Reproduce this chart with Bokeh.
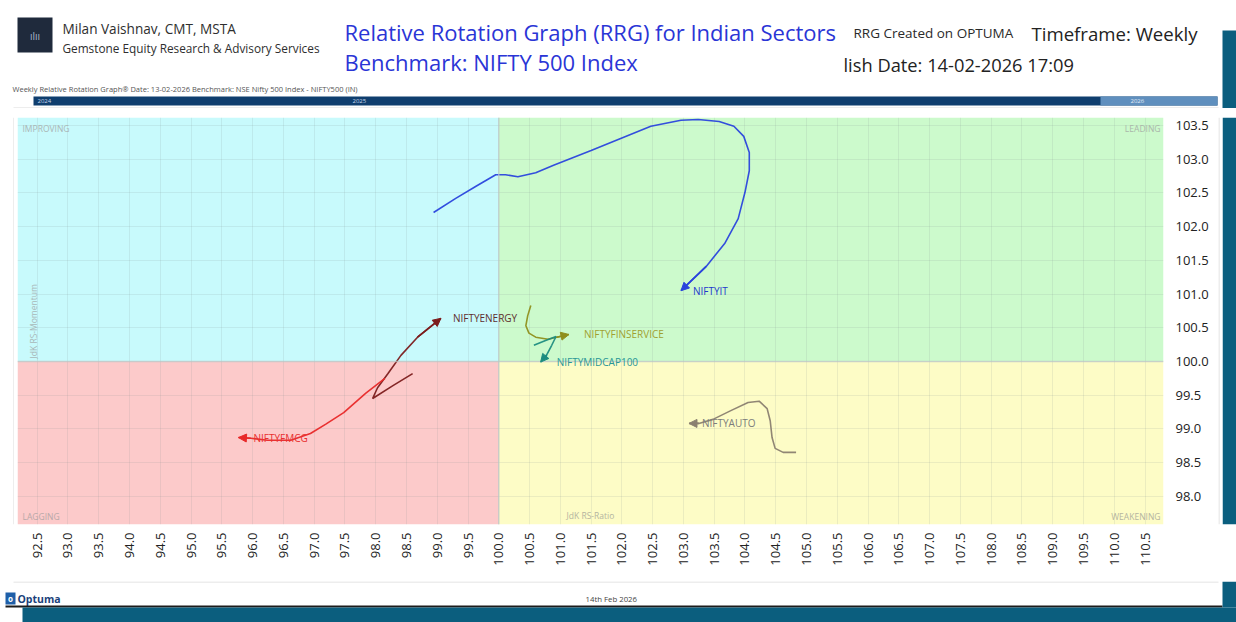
import math
from bokeh.plotting import figure
from bokeh.layouts import column, row
from bokeh.models import (BoxAnnotation, Label, Arrow, NormalHead, FixedTicker,
                          NumeralTickFormatter, Span)
from bokeh.core.properties import value
from bokeh.embed import file_html
from bokeh.resources import INLINE

# ---------------- data ----------------
x_ticks = [92.5, 93.0, 93.5, 94.0, 94.5, 95.0, 95.5, 96.0, 96.5, 97.0, 97.5, 98.0,
           98.5, 99.0, 99.5, 100.0, 100.5, 101.0, 101.5, 102.0, 102.5, 103.0, 103.5,
           104.0, 104.5, 105.0, 105.5, 106.0, 106.5, 107.0, 107.5, 108.0, 108.5,
           109.0, 109.5, 110.0, 110.5]
y_ticks = [98.0, 98.5, 99.0, 99.5, 100.0, 100.5, 101.0, 101.5, 102.0, 102.5, 103.0, 103.5]

x_range = (92.18, 110.80)
y_range = (97.58, 103.62)

it_ratio = [98.94, 99.30, 99.63, 99.95, 100.11, 100.31, 100.60, 100.89, 101.50, 101.98,
            102.47, 102.96, 103.24, 103.58, 103.82, 103.98, 104.07, 104.07, 104.00,
            103.89, 103.67, 103.37, 102.96]
it_mom = [102.21, 102.42, 102.60, 102.77, 102.77, 102.74, 102.80, 102.91, 103.13, 103.31,
          103.49, 103.58, 103.59, 103.56, 103.49, 103.34, 103.10, 102.83, 102.51,
          102.12, 101.75, 101.41, 101.05]

energy_ratio = [98.60, 98.28, 97.95, 98.03, 98.20, 98.41, 98.68, 99.06]
energy_mom = [99.82, 99.64, 99.45, 99.61, 99.82, 100.09, 100.36, 100.64]

fmcg_ratio = [98.15, 97.84, 97.48, 97.19, 96.94, 96.62, 96.24, 95.97, 95.77]
fmcg_mom = [99.75, 99.53, 99.24, 99.07, 98.93, 98.83, 98.83, 98.86, 98.87]

fin_ratio = [100.52, 100.47, 100.44, 100.49, 100.60, 100.80, 100.94, 101.14]
fin_mom = [100.83, 100.68, 100.53, 100.42, 100.36, 100.33, 100.36, 100.40]

midcap_ratio = [100.57, 100.76, 100.93, 100.86, 100.78, 100.68]
midcap_mom = [100.24, 100.31, 100.37, 100.24, 100.10, 99.99]

auto_ratio = [104.83, 104.62, 104.49, 104.44, 104.41, 104.36, 104.23, 104.05, 103.77,
              103.48, 103.25, 103.09]
auto_mom = [98.65, 98.65, 98.71, 98.87, 99.12, 99.30, 99.41, 99.39, 99.27, 99.14,
            99.08, 99.08]

series = [
    # name, ratio, momentum, line colour, label colour, label offset px
    ("NIFTYIT", it_ratio, it_mom, "#2a44dd", "#2238cc", 12),
    ("NIFTYENERGY", energy_ratio, energy_mom, "#7c1c1c", "#5e2e2e", 12),
    ("NIFTYFMCG", fmcg_ratio, fmcg_mom, "#e82828", "#e83030", 15),
    ("NIFTYFINSERVICE", fin_ratio, fin_mom, "#8f8f1c", "#a0a030", 15),
    ("NIFTYMIDCAP100", midcap_ratio, midcap_mom, "#1c8c80", "#2a9696", 16),
    ("NIFTYAUTO", auto_ratio, auto_mom, "#8a8070", "#7c7c7c", 13),
]

FONT = "Open Sans"
TEAL = "#0b5e7e"
BORDER = "#dcdcdc"


# ---------------- decoration panels (1 unit = 1 page pixel) ----------------
def deco(w, h, x0, y0):
    f = figure(width=w, height=h, x_range=(x0, x0 + w), y_range=(y0 + h, y0),
               output_backend="svg", toolbar_location=None, min_border=0,
               x_axis_location=None, y_axis_location=None, title=None,
               outline_line_color=None, background_fill_color="white",
               border_fill_color="white")
    for g in f.grid:
        g.visible = False
    return f


def rect(f, x0, y0, x1, y1, color):
    f.quad(left=[x0], right=[x1], top=[y0], bottom=[y1], fill_color=color,
           line_color=None)


def words(f, x, y, s, size, color, align="left", style="normal"):
    f.text(x=[x], y=[y], text=[s], text_font=value(FONT), text_font_size=size,
           text_color=color, text_align=align, text_baseline="middle",
           text_font_style=style)


# header : page y 0..108
hdr = deco(1236, 108, 0, 0)
rect(hdr, 1222, 30, 1236, 108, TEAL)
rect(hdr, 17, 17, 52, 52, "#1f2a3c")
words(hdr, 34.5, 35, "ılıı", "10px", "#a9b6cc", align="center")
words(hdr, 62, 28, "Milan Vaishnav, CMT, MSTA", "13.6px", "#2e2e2e")
words(hdr, 62, 47, "Gemstone Equity Research & Advisory Services", "11.8px", "#2e2e2e")
words(hdr, 344, 31, "Relative Rotation Graph (RRG) for Indian Sectors", "22px", "#2a35d6")
words(hdr, 344, 61, "Benchmark: NIFTY 500 Index", "22px", "#2a35d6")
words(hdr, 853, 32, "RRG Created on OPTUMA", "13.5px", "#2a2a2a")
words(hdr, 1031, 33, "Timeframe: Weekly", "18.6px", "#222222")
words(hdr, 843, 64, "lish Date: 14-02-2026 17:09", "18.3px", "#222222")
words(hdr, 12, 88, "Weekly Relative Rotation Graph®   Date: 13-02-2026  Benchmark: NSE Nifty 500 Index - NIFTY500 (IN)",
      "7.5px", "#555555")
rect(hdr, 33, 96, 1217, 105, "#0f3e6e")
rect(hdr, 1100, 96, 1217, 105, "#5f8fbe")
words(hdr, 37, 100.5, "2024", "6px", "#c8d8ec")
words(hdr, 352, 100.5, "2025", "6px", "#c8d8ec")
words(hdr, 1130, 100.5, "2026", "6px", "#e2ecf6")
rect(hdr, 13, 107, 1218, 108, BORDER)

# side strips : page y 108..581
lp = deco(14, 473, 0, 108)
rect(lp, 13, 108, 14, 581, BORDER)
rp = deco(4, 473, 1218, 108)
rect(rp, 1218, 108, 1219, 581, BORDER)
strip = deco(14, 473, 1222, 108)
rect(strip, 1222, 108, 1236, 581, TEAL)

# footer : page y 581..622
ftr = deco(1236, 41, 0, 581)
rect(ftr, 13, 581, 1218, 582, BORDER)
rect(ftr, 5, 592, 15, 604, "#1f5fa8")
words(ftr, 10, 598, "o", "8px", "#ffffff", align="center", style="bold")
words(ftr, 17, 598, "Optuma", "10.5px", "#1a3f7a", style="bold")
words(ftr, 585, 598, "14th Feb 2026", "7.8px", "#444444")
rect(ftr, 5, 605, 1222, 607, "#1c1c1c")
rect(ftr, 1222, 581, 1236, 607, TEAL)
rect(ftr, 22, 607, 1236, 622, TEAL)

# ---------------- main RRG figure : page x 14..1218, y 108..581 ----------------
p = figure(width=1204, height=473, x_range=x_range, y_range=y_range,
           output_backend="svg", toolbar_location=None, y_axis_location="right",
           min_border_left=3, min_border_right=55, min_border_top=9,
           min_border_bottom=57, background_fill_color="white",
           border_fill_color="white", outline_line_color=None, title=None)

quads = [
    (x_range[0], 100, 100, y_range[1], "#c8fafc"),   # improving
    (100, x_range[1], 100, y_range[1], "#ccfacc"),   # leading
    (x_range[0], 100, y_range[0], 100, "#fccaca"),   # lagging
    (100, x_range[1], y_range[0], 100, "#fdfcc6"),   # weakening
]
for l, r, b, t, c in quads:
    p.add_layout(BoxAnnotation(left=l, right=r, bottom=b, top=t, fill_color=c,
                               fill_alpha=1, line_color=None, level="image"))

p.xaxis.ticker = FixedTicker(ticks=x_ticks)
p.yaxis.ticker = FixedTicker(ticks=y_ticks)
p.xaxis.formatter = NumeralTickFormatter(format="0.0")
p.yaxis.formatter = NumeralTickFormatter(format="0.0")
p.xaxis.major_label_orientation = math.pi / 2
for ax in (p.xaxis, p.yaxis):
    ax.axis_line_color = None
    ax.major_tick_line_color = None
    ax.minor_tick_line_color = None
    ax.major_tick_out = 0
    ax.major_tick_in = 0
    ax.minor_tick_out = 0
    ax.major_label_text_font = FONT
    ax.major_label_text_font_size = "13px"
    ax.major_label_text_color = "#222222"
p.xaxis.major_label_standoff = 8
p.yaxis.major_label_standoff = 12

p.xgrid.ticker = FixedTicker(ticks=x_ticks)
p.ygrid.ticker = FixedTicker(ticks=y_ticks)
p.grid.grid_line_color = "#7f9090"
p.grid.grid_line_alpha = 0.14
p.grid.grid_line_width = 1

for dim in ("height", "width"):
    p.add_layout(Span(location=100, dimension=dim, line_color="#bcc6c6",
                      line_width=1.5, line_alpha=0.7))

for name, xs, ys, c, lc, off in series:
    p.line(xs, ys, line_color=c, line_width=1.6, line_alpha=0.95)
    p.add_layout(Arrow(end=NormalHead(size=8, fill_color=c, line_color=c),
                       x_start=xs[-2], y_start=ys[-2], x_end=xs[-1], y_end=ys[-1],
                       line_color=c, line_width=1.6))
    p.add_layout(Label(x=xs[-1], y=ys[-1], text=name, x_offset=off,
                       text_baseline="middle", text_align="left",
                       text_font=FONT, text_font_size="10px", text_color=lc))

# captions inside the frame (screen units relative to the frame)
FL, FB = 17, 524


def cap(px, py, s, color, align="left", angle=0):
    p.add_layout(Label(x=px - FL, y=FB - py, x_units="screen", y_units="screen",
                       text=s, text_font=FONT, text_font_size="8.5px",
                       text_color=color, text_align=align, text_baseline="middle",
                       angle=angle))


cap(22, 128, "IMPROVING", "#aab6b6")
cap(1160, 128, "LEADING", "#aab6aa", align="right")
cap(22, 516, "LAGGING", "#b8a8a8")
cap(1160, 516, "WEAKENING", "#b4b4a0", align="right")
cap(566, 515, "JdK RS-Ratio", "#b4b4a0")
cap(33, 358, "JdK RS-Momentum", "#a8b8b8", angle=math.pi / 2)

layout = column(hdr, row(lp, p, rp, strip), ftr)

open("out.html", "w").write(file_html(layout, INLINE))
